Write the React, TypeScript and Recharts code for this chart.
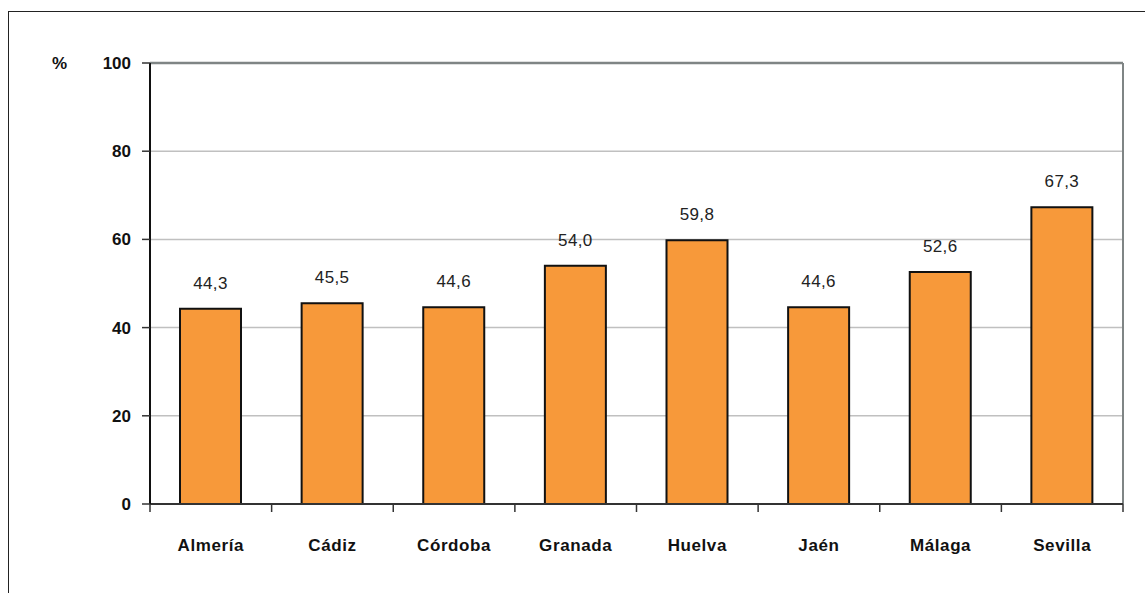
import { BarChart, Bar, XAxis, YAxis, CartesianGrid, LabelList, ReferenceLine } from 'recharts';

const provinces = ['Almería', 'Cádiz', 'Córdoba', 'Granada', 'Huelva', 'Jaén', 'Málaga', 'Sevilla'];
const values = [44.3, 45.5, 44.6, 54.0, 59.8, 44.6, 52.6, 67.3];
const yTicks = [0, 20, 40, 60, 80, 100];

const data = provinces.map((name, i) => ({ name, value: values[i] }));

const FONT = '"Liberation Sans", Arial, sans-serif';
const W = 1145;
const H = 593;
const M = { top: 63, right: 22, bottom: 29, left: 0 };
const Y_W = 150;
const PLOT_W = W - M.left - M.right - Y_W;
const HALF_BAND = PLOT_W / provinces.length / 2;

const fmt = (v: any) => Number(v).toFixed(1).replace('.', ',');

// category label + tick marks on the band edges, like the original
const CatTick = (props: any) => {
  const { x, y, payload, index } = props;
  const axisY = y - 35;
  const last = index === provinces.length - 1;
  return (
    <g>
      <line x1={x - HALF_BAND} x2={x - HALF_BAND} y1={axisY} y2={axisY + 8} stroke="#333" strokeWidth={1.5} />
      {last && <line x1={x + HALF_BAND} x2={x + HALF_BAND} y1={axisY} y2={axisY + 8} stroke="#333" strokeWidth={1.5} />}
      <text x={x} y={y} dy="0.71em" textAnchor="middle" fill="#111" fontSize={17} fontWeight="bold" fontFamily={FONT} letterSpacing={0.6}>
        {payload.value}
      </text>
    </g>
  );
};

export default function App() {
  return (
    <div style={{ position: 'absolute', left: 0, top: 0, width: W, height: H, overflow: 'hidden', background: '#fff', fontFamily: FONT }}>
      <div style={{ position: 'absolute', left: 8, top: 11, width: 1200, height: 700, borderTop: '1.5px solid #222', borderLeft: '1.5px solid #222' }} />
      <div style={{ position: 'absolute', left: 52, top: 54, fontSize: 17, fontWeight: 'bold', color: '#111' }}>%</div>
      <div style={{ position: 'absolute', left: 0, top: 0 }}>
        <BarChart width={W} height={H} data={data} margin={M} barSize={61}>
          <CartesianGrid horizontal vertical={false} stroke="#c0c0c0" strokeWidth={1.5} />
          <CartesianGrid
            horizontal={false}
            vertical
            stroke="#7f8585"
            strokeWidth={2}
            verticalCoordinatesGenerator={({ offset }: any) => [offset.left + offset.width]}
          />
          <XAxis
            dataKey="name"
            height={60}
            axisLine={false}
            tickLine={false}
            tickSize={0}
            tickMargin={35}
            interval={0}
            tick={<CatTick />}
          />
          <YAxis
            width={Y_W}
            domain={[0, 100]}
            ticks={yTicks}
            tickSize={8}
            tickMargin={11}
            axisLine={{ stroke: '#111', strokeWidth: 2 }}
            tickLine={{ stroke: '#333', strokeWidth: 1.5 }}
            tick={{ fill: '#111', fontSize: 17, fontWeight: 'bold', fontFamily: FONT }}
          />
          <ReferenceLine y={100} stroke="#7f8585" strokeWidth={2.5} />
          <ReferenceLine y={0} stroke="#333" strokeWidth={2} />
          <Bar dataKey="value" fill="#F7993A" stroke="#111" strokeWidth={2} isAnimationActive={false}>
            <LabelList dataKey="value" position="top" offset={20} formatter={fmt} style={{ fill: '#222', fontSize: 17, fontFamily: FONT, letterSpacing: 0.4 }} />
          </Bar>
        </BarChart>
      </div>
    </div>
  );
}
